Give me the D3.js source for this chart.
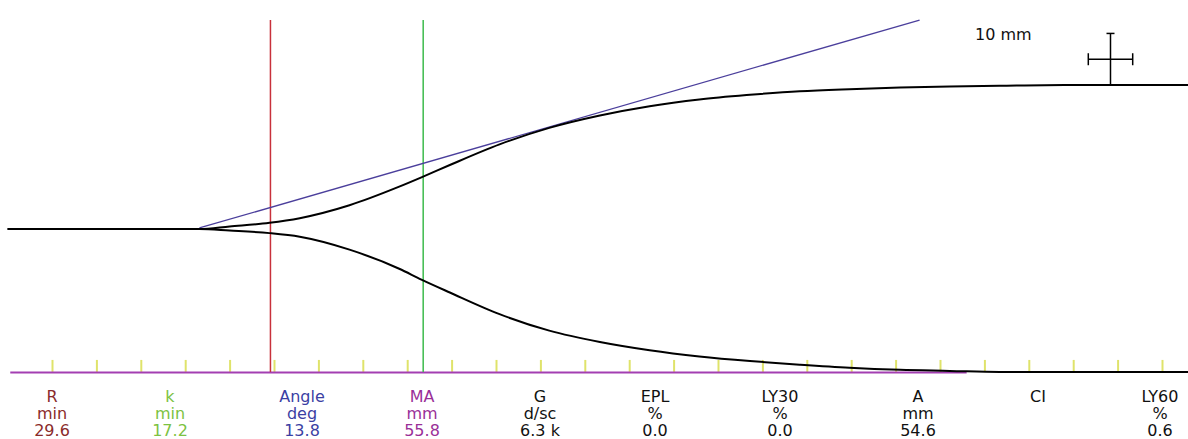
<!DOCTYPE html>
<html>
<head>
<meta charset="utf-8">
<script src="https://cdn.jsdelivr.net/npm/d3@7"></script>
<style>
  body { margin: 0; background: #fff; }
  svg { display: block; }
  text { font-family: "DejaVu Sans", Verdana, sans-serif; font-size: 16px; }
</style>
</head>
<body>
<div id="chart"></div>
<script>
// trace data (time in min, half-amplitude in mm)
var timeMin = [0, 21.6, 25, 29.5, 32.9, 38.5, 44.1, 46.6, 49.8, 55.4, 61, 66.7, 72.3, 77.9, 83.6, 89.2, 94.8, 100.5, 106.1, 111.7, 119, 133];
var upperMm = [0, 0, 0.5, 1.2, 2.1, 4.6, 8.2, 10.0, 12.4, 16.4, 19.6, 22.0, 23.8, 25.1, 26.0, 26.7, 27.1, 27.4, 27.6, 27.75, 27.9, 27.9];
var lowerMm = [0, 0, 0.3, 0.8, 1.5, 4.0, 7.7, 9.8, 12.3, 16.5, 19.7, 21.9, 23.5, 24.7, 25.6, 26.3, 26.9, 27.3, 27.5, 27.7, 27.7, 27.7];

// angle tangent (time, mm)
var tangentT = [21.6, 102.7];
var tangentMm = [0.2, 40.5];

// results
var R = 29.6, K = 17.2;
var labelNames = ["R", "k", "Angle", "MA", "G", "EPL", "LY30", "A", "CI", "LY60"];
var labelUnits = ["min", "min", "deg", "mm", "d/sc", "%", "%", "mm", "", "%"];
var labelValues = ["29.6", "17.2", "13.8", "55.8", "6.3 k", "0.0", "0.0", "54.6", "", "0.6"];
var labelColors = ["#8a2b2b", "#7cc242", "#3b3fa3", "#9a2f98", "#111", "#111", "#111", "#111", "#111", "#111"];
var labelX = [52, 170, 302, 422, 540, 655, 780, 918, 1038, 1160];

var tickTimes = d3.range(5, 131, 5);
var baselineEnd = 108;   // min
var baselineMm = -27.7;
var scaleBarT = 124.2, scaleBarMin = 5, scaleBarMm = 10, scaleBarBase = 27.9;

var svgWidth = 1188, svgHeight = 439;

var svg = d3.select("#chart").append("svg")
  .attr("width", svgWidth)
  .attr("height", svgHeight);

var x = d3.scaleLinear().domain([0, 133]).range([7.6, 7.6 + 133 * 8.88]);
var y = d3.scaleLinear().domain([-30, 30]).range([229 + 30 * 5.16, 229 - 30 * 5.16]);

// yellow time ticks
svg.append("g")
  .attr("transform", "translate(0," + y(baselineMm) + ")")
  .call(d3.axisTop(x).tickValues(tickTimes).tickSize(12).tickFormat(""))
  .call(function(g) {
    g.select(".domain").remove();
    g.selectAll(".tick line").attr("stroke", "#dfe36a").attr("stroke-width", 2);
  });

// magenta baseline
svg.append("line")
  .attr("x1", x(0.3)).attr("x2", x(baselineEnd))
  .attr("y1", y(baselineMm) + 0.5).attr("y2", y(baselineMm) + 0.5)
  .attr("stroke", "#a33fb2")
  .attr("stroke-width", 2);

// R and K markers
svg.append("line")
  .attr("x1", x(R)).attr("x2", x(R))
  .attr("y1", 20).attr("y2", y(baselineMm))
  .attr("stroke", "#c8313b").attr("stroke-width", 1.5);

svg.append("line")
  .attr("x1", x(R + K)).attr("x2", x(R + K))
  .attr("y1", 20).attr("y2", y(baselineMm))
  .attr("stroke", "#3dbb4c").attr("stroke-width", 1.5);

// tangent line
svg.append("line")
  .attr("x1", x(tangentT[0])).attr("y1", y(tangentMm[0]))
  .attr("x2", x(tangentT[1])).attr("y2", y(tangentMm[1]))
  .attr("stroke", "#4b3f9c").attr("stroke-width", 1.3);

// trace
var upper = d3.line()
  .x(function(d, i) { return x(timeMin[i]); })
  .y(function(d) { return y(d); })
  .curve(d3.curveMonotoneX);

var lower = d3.line()
  .x(function(d, i) { return x(timeMin[i]); })
  .y(function(d) { return y(-d); })
  .curve(d3.curveMonotoneX);

svg.append("path")
  .attr("d", upper(upperMm))
  .attr("fill", "none").attr("stroke", "#000").attr("stroke-width", 2);

svg.append("path")
  .attr("d", lower(lowerMm))
  .attr("fill", "none").attr("stroke", "#000").attr("stroke-width", 2);

// 10 mm scale bar
var sb = svg.append("g").attr("stroke", "#000").attr("stroke-width", 1.5);
var sx = x(scaleBarT);
var yTop = y(scaleBarBase + scaleBarMm), yBot = y(scaleBarBase);
var yMid = y(scaleBarBase + scaleBarMm / 2);
var xl = x(scaleBarT - scaleBarMin / 2), xr = x(scaleBarT + scaleBarMin / 2);
sb.append("line").attr("x1", sx).attr("x2", sx).attr("y1", yTop).attr("y2", yBot);
sb.append("line").attr("x1", sx - 4).attr("x2", sx + 4).attr("y1", yTop).attr("y2", yTop);
sb.append("line").attr("x1", xl).attr("x2", xr).attr("y1", yMid).attr("y2", yMid);
sb.append("line").attr("x1", xl).attr("x2", xl).attr("y1", yMid - 6).attr("y2", yMid + 6);
sb.append("line").attr("x1", xr).attr("x2", xr).attr("y1", yMid - 6).attr("y2", yMid + 6);

svg.append("text")
  .attr("x", 975).attr("y", 40)
  .attr("fill", "#111")
  .text("10 mm");

// result labels
var rows = [labelNames, labelUnits, labelValues];
var rowY = [402, 419, 436];
rows.forEach(function(row, r) {
  svg.append("g").selectAll("text")
    .data(row)
    .enter()
    .append("text")
    .attr("x", function(d, i) { return labelX[i]; })
    .attr("y", rowY[r])
    .attr("text-anchor", "middle")
    .attr("fill", function(d, i) { return labelColors[i]; })
    .text(function(d) { return d; });
});
</script>
</body>
</html>
